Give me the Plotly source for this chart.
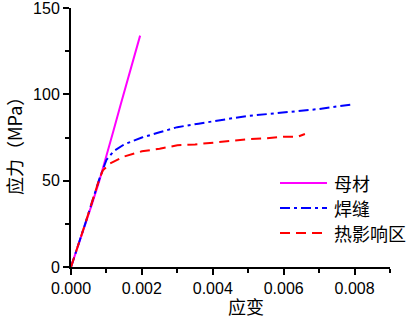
import plotly.graph_objects as go

# Data
base_strain = [0.0, 0.0002, 0.0004, 0.0006, 0.0008, 0.0010, 0.0012, 0.0014, 0.0016, 0.0018, 0.00195]
base_stress = [0, 12, 24, 37, 50, 64, 79, 94, 108, 122, 134]

weld_strain = [0.0, 0.0002, 0.0004, 0.0006, 0.0008, 0.0010, 0.0012, 0.0015, 0.0020, 0.0025, 0.0030, 0.0036, 0.0040, 0.0045, 0.0050, 0.0055, 0.0060, 0.0065, 0.0070, 0.0075, 0.0079]
weld_stress = [0, 12, 25, 38, 51, 62, 67, 71, 75, 78, 81, 83, 84.5, 86, 87.5, 88.5, 89.5, 90.5, 91.5, 93, 94]

haz_strain = [0.0, 0.0002, 0.0004, 0.0006, 0.0008, 0.0009, 0.0011, 0.0015, 0.0020, 0.0025, 0.0030, 0.0035, 0.0040, 0.0045, 0.0050, 0.0055, 0.0060, 0.0064, 0.0066]
haz_stress = [0, 12, 25, 38, 51, 56, 60, 64, 67, 68.5, 70.5, 71, 72, 73, 74, 74.5, 75.5, 75.5, 77]

names = ["母材", "焊缝", "热影响区"]
colors = ["#ff00ff", "#0000ff", "#ff0000"]
dashes = ["solid", "10px,4px,3px,4px", "10px,6px"]

x_ticks = [0.000, 0.002, 0.004, 0.006, 0.008]
x_ticklabels = ["0.000", "0.002", "0.004", "0.006", "0.008"]
y_ticks = [0, 50, 100, 150]
x_title = "应变"
y_title = "应力（MPa）"

cjk = "Noto Sans CJK SC"

fig = go.Figure()
series = [(base_strain, base_stress), (weld_strain, weld_stress), (haz_strain, haz_stress)]
for (xs, ys), n, c, d in zip(series, names, colors, dashes):
    fig.add_trace(go.Scatter(x=xs, y=ys, mode="lines", name=n,
                             line=dict(color=c, width=2, dash=d), showlegend=False))

H = 318; T = 8; B = 51; L = 71; R = 19; W = 409
ph = H - T - B; pw = W - L - R

def px(xp):
    return (xp - L) / pw

def py(yp):
    return 1 - (yp - T) / ph

# Manual legend (line samples + labels in paper coords)
leg_y = [183, 208, 233]
for i, (n, c, d) in enumerate(zip(names, colors, dashes)):
    yp = py(leg_y[i])
    fig.add_shape(type="line", xref="paper", yref="paper", x0=px(280), x1=px(327), y0=yp, y1=yp,
                  line=dict(color=c, width=2, dash=d))
    fig.add_annotation(xref="paper", yref="paper", x=px(332), y=yp, text=n,
                       showarrow=False, xanchor="left", yanchor="middle",
                       font=dict(size=18, color="black", family=cjk))

# Axis titles
fig.add_annotation(xref="paper", yref="paper", x=px(246), y=py(306), text=x_title,
                   showarrow=False, xanchor="center", yanchor="middle",
                   font=dict(size=18, color="black", family=cjk))
fig.add_annotation(xref="paper", yref="paper", x=px(14), y=py(142), text=y_title,
                   showarrow=False, xanchor="center", yanchor="middle", textangle=-90,
                   font=dict(size=18, color="black", family=cjk))

axis_common = dict(showline=True, linecolor="black", linewidth=2, ticks="outside",
                   ticklen=6, tickwidth=2, tickcolor="black", showgrid=False, zeroline=False,
                   tickfont=dict(size=16, color="black", family="Liberation Sans, Arial"),
                   mirror=False, automargin=False, ticklabeloverflow="allow")

fig.update_xaxes(range=[0, 0.009], tickvals=x_ticks, ticktext=x_ticklabels,
                 minor=dict(ticks="outside", ticklen=4, tickwidth=2, tickcolor="black", dtick=0.001, tick0=0),
                 **axis_common)
fig.update_yaxes(range=[0, 150.01], tickvals=y_ticks,
                 minor=dict(ticks="outside", ticklen=4, tickwidth=2, tickcolor="black", dtick=25, tick0=0),
                 **axis_common)

fig.update_layout(width=W, height=H, margin=dict(l=L, r=R, t=T, b=B),
                  plot_bgcolor="white", paper_bgcolor="white", showlegend=False)

fig.write_html("out.html", config={"displayModeBar": False},
               post_script="document.body.style.margin='0';")
